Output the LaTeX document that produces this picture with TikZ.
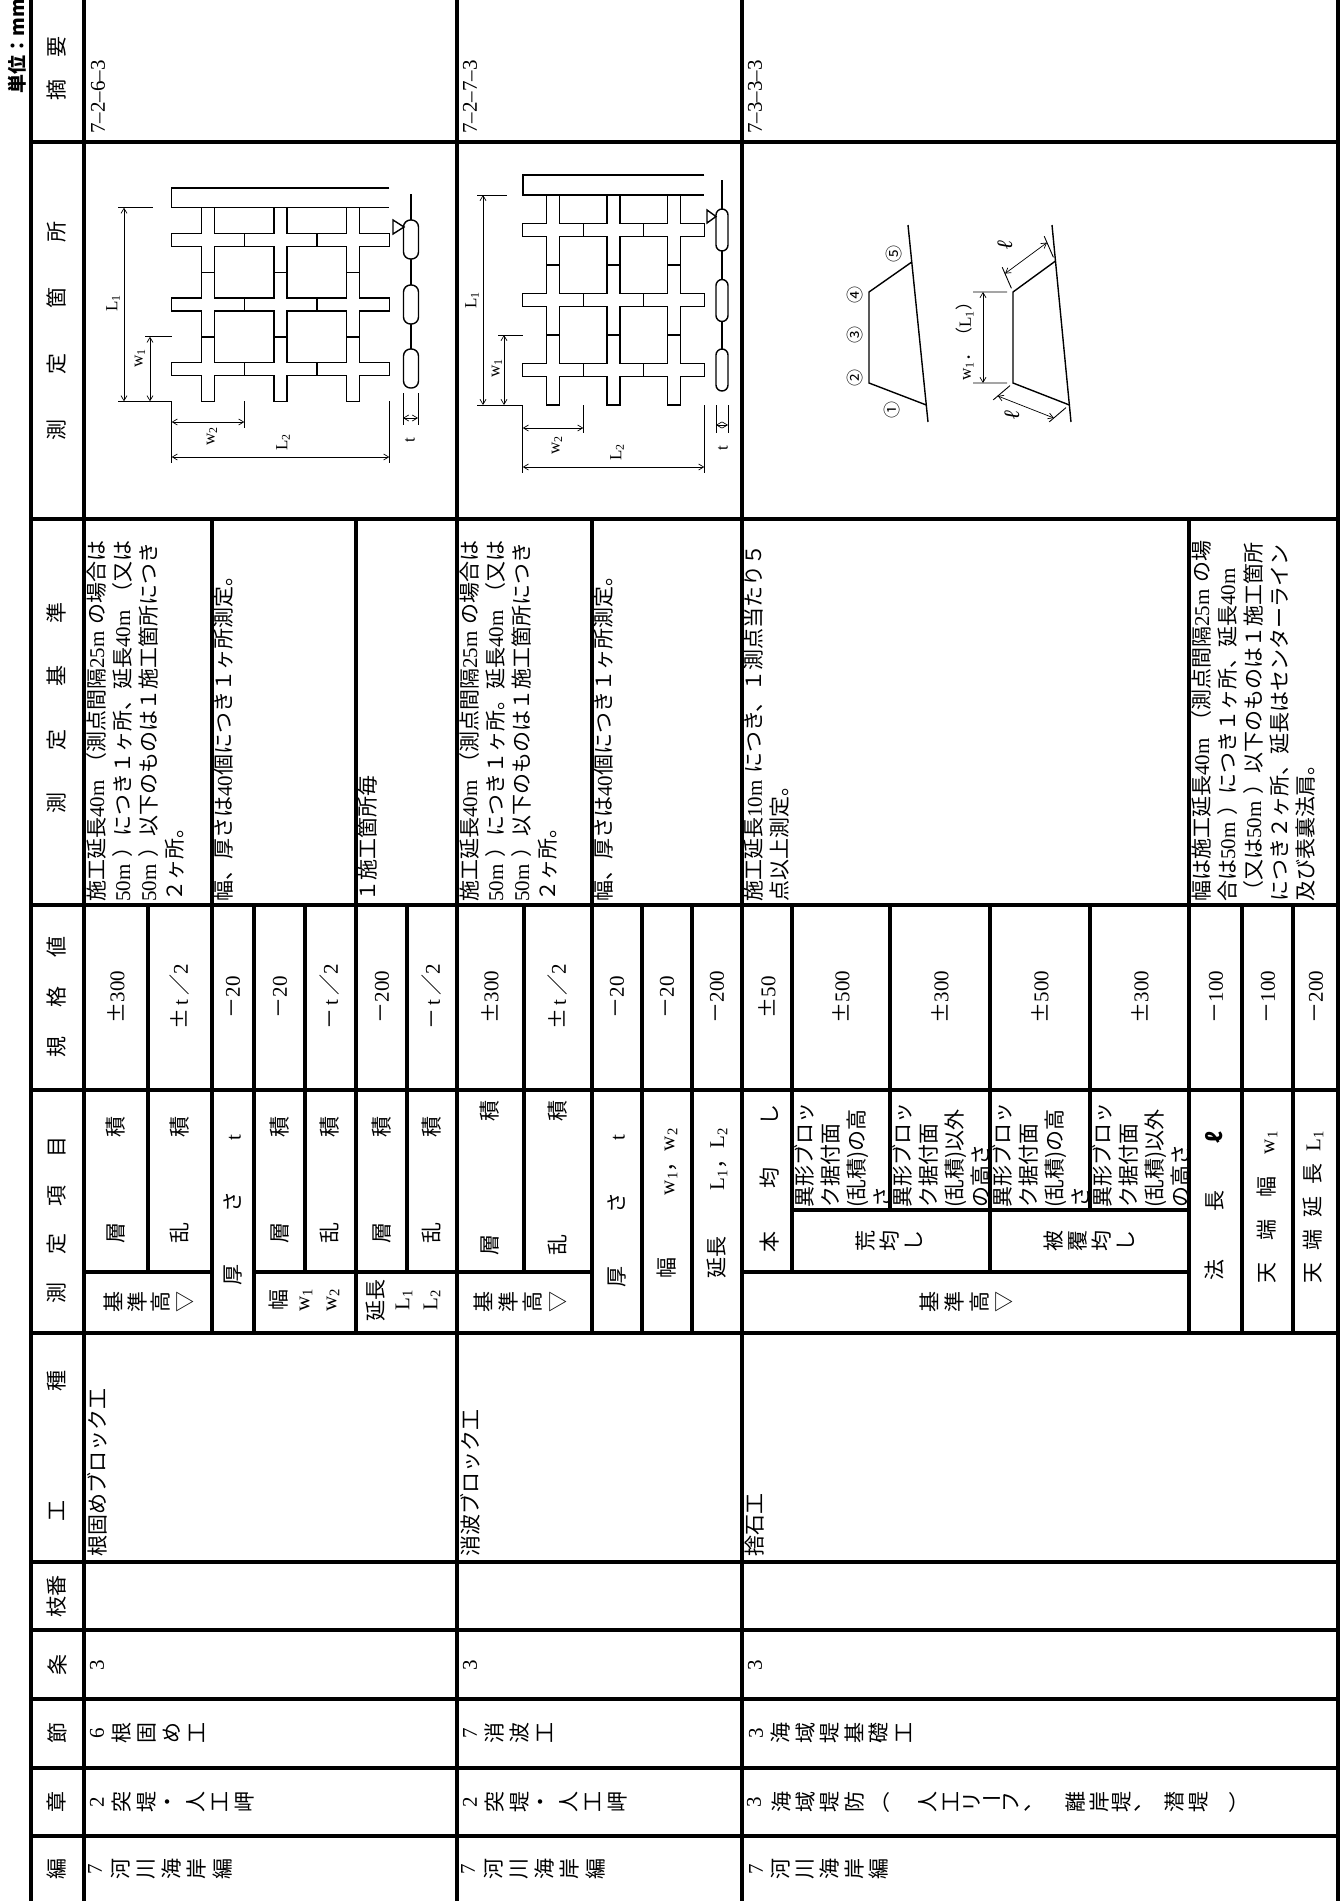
\documentclass[tikz,border=0pt]{standalone}
\usepackage{fontspec}
\setmainfont{Liberation Serif}
\newfontfamily\jp{Noto Sans CJK JP}
\usetikzlibrary{arrows.meta}
\newcommand{\jpf}{\jp\fontsize{21}{26}\selectfont}
\newcommand{\valf}{\fontsize{21}{26}\selectfont}
\newcommand{\labf}{\fontsize{17}{20}\selectfont}
\newcommand{\ellf}{\fontsize{22}{26}\selectfont}
\newcommand{\bell}{\textbf{\textit{ℓ}}}
\newcommand{\um}[1]{\textrm{#1}\makebox[1.1em][l]{\textrm{m}}}
\newcommand{\sprd}[2]{\makebox[#1][s]{#2}}
\newcommand{\tate}[5]{\foreach \ch [count=\cnt from 0] in {#5} \node[rt] (#1-\cnt) at (#2+\cnt*#4,#3) {\ch};}
\newcommand{\xblock}[4]{\draw[fig] (#1-6.5,#2-#4) -- ++(13,0) |- (#1+#3,#2-6.5) -- ++(0,13) -| (#1+6.5,#2+#4) -- ++(-13,0) |- (#1-#3,#2+6.5) -- ++(0,-13) -| (#1-6.5,#2-#4) -- cycle;}

\begin{document}
\begin{tikzpicture}[x=1pt,y=-1pt,
  tbl/.style={line width=3.1pt},
  fig/.style={line width=1.4pt},
  ext/.style={line width=0.9pt},
  dim/.style={line width=0.7pt,<->},
  >={Straight Barb[length=5pt,width=6pt]},
  rt/.style={rotate=90,inner sep=0pt,font=\jpf},
  rtb/.style={rt,anchor=north west,align=left},
  up/.style={inner sep=0pt,font=\jpf},
  val/.style={rotate=90,inner sep=0pt,font=\valf},
  lab/.style={rotate=90,inner sep=0pt,font=\labf},
  ell/.style={rotate=90,inner sep=0pt,font=\ellf},
  num/.style={rotate=90,inner sep=0pt,font=\jp\fontsize{17}{19}\selectfont}]

\path[use as bounding box,fill=white] (0,0) rectangle (1343,1901);

\foreach \x in {31,84,457,742,1338} \draw[tbl] (\x,-5) -- (\x,1906);
\foreach \y in {142,519,905,1090,1333,1562,1630,1699,1768,1836} \draw[tbl] (31,\y) -- (1338,\y);
\foreach \x in {212,356,592,1189} \draw[tbl] (\x,519) -- (\x,1333);
\foreach \x in {254,642,692,1242,1293} \draw[tbl] (\x,905) -- (\x,1333);
\foreach \x in {148,305,407,524,792,990} \draw[tbl] (\x,905) -- (\x,1272);
\foreach \x in {890,1090} \draw[tbl] (\x,905) -- (\x,1210);
\draw[tbl] (84,1272) -- (212,1272) (254,1272) -- (592,1272) (742,1272) -- (1189,1272) (792,1210) -- (1189,1210);

\node[rt,font=\jp\bfseries\fontsize{19}{22}\selectfont] (unit) at (17,46) {単位：mm};
\node[rt] (hd1) at (57,68) {\sprd{64pt}{摘\hfil 要}};
\node[rt] (hd2) at (57,331) {\sprd{219pt}{測\hfil 定\hfil 箇\hfil 所}};
\node[rt] (hd3) at (57,708) {\sprd{211pt}{測\hfil 定\hfil 基\hfil 準}};
\node[rt] (hd4) at (57,997) {\sprd{121pt}{規\hfil 格\hfil 値}};
\node[rt] (hd5) at (57,1220) {\sprd{167pt}{測\hfil 定\hfil 項\hfil 目}};
\node[rt] (hd6) at (57,1446) {\sprd{151pt}{工\hfil 種}};
\node[rt] (hd7) at (57,1596) {枝番};
\node[rt] (hd8) at (57,1665) {条};
\node[rt] (hd9) at (57,1733) {節};
\node[rt] (hd10) at (57,1802) {章};
\node[rt] (hd11) at (57,1869) {編};

\node[val,anchor=west] (ref1) at (98,134) {7--2--6--3};
\node[val,anchor=west] (ref2) at (470,134) {7--2--7--3};
\node[val,anchor=west] (ref3) at (755,134) {7--3--3--3};

\draw[fig] (389.3,188) -- (171.7,188) -- (171.7,207.7) -- (389.3,207.7);
\foreach \cx in {208,280.5,353} {\foreach \cy in {240,304.5,369} {\xblock{\cx}{\cy}{36.3}{32.3}}}
\draw[fig] (411,194) -- (411,388);
\foreach \y in {220,285,349} \draw[fig,fill=white,rounded corners=7pt] (403.5,\y) rectangle ++(15,39);
\draw[fig] (393,220) -- (404,227) -- (393,234) -- cycle;
\draw[ext] (118,207.7) -- (153,207.7) (118,401.3) -- (171.7,401.3) -- (171.7,463) (145,336.8) -- (171.7,336.8)
  (244.3,401.3) -- (244.3,428) (389.3,401.3) -- (389.3,463) (403,393) -- (403,425) (418,393) -- (418,425);
\draw[dim] (124,207.7) -- (124,401.3);
\draw[dim] (150,336.8) -- (150,401.3);
\draw[dim] (171.7,422) -- (244.3,422);
\draw[dim] (171.7,457) -- (389.3,457);
\draw[dim] (403,418) -- (418,418);
\node[lab] (f1L1) at (113,303) {L\textsubscript{1}};
\node[lab] (f1w1) at (140,358) {w\textsubscript{1}};
\node[lab] (f1w2) at (212,436) {w\textsubscript{2}};
\node[lab] (f1L2) at (283,442) {L\textsubscript{2}};
\node[lab] (f1t) at (410,440) {t};

\draw[fig] (704.3,175) -- (522.8,175) -- (522.8,195) -- (704.3,195);
\foreach \cx in {553,613.5,674} {\foreach \cy in {230,300,370} {\xblock{\cx}{\cy}{30.25}{35}}}
\draw[fig] (722,180) -- (722,391);
\foreach \y in {209,279.5,349} \draw[fig,fill=white,rounded corners=6pt] (716,\y) rectangle ++(12,42);
\draw[fig] (707,210) -- (716,216.5) -- (707,223) -- cycle;
\draw[ext] (477,195) -- (507,195) (477,405) -- (522.8,405) -- (522.8,473) (498,335) -- (522.8,335)
  (583.3,405) -- (583.3,433) (704.3,405) -- (704.3,473) (716,405) -- (716,433) (728,405) -- (728,433);
\draw[dim] (483,195) -- (483,405);
\draw[dim] (504,335) -- (504,405);
\draw[dim] (522.8,428) -- (583.3,428);
\draw[dim] (522.8,467) -- (704.3,467);
\draw[dim] (716,425) -- (728,425);
\node[lab] (f2L1) at (472,300) {L\textsubscript{1}};
\node[lab] (f2w1) at (497,368) {w\textsubscript{1}};
\node[lab] (f2w2) at (557,445) {w\textsubscript{2}};
\node[lab] (f2L2) at (617,452) {L\textsubscript{2}};
\node[lab] (f2t) at (723,448) {t};

\draw[fig] (908,225) -- (928,422);
\draw[fig] (911.8,262) -- (869,292) -- (869,383) -- (926.3,405);
\node[num] (p1) at (892,410) {①};
\node[num] (p2) at (855,378) {②};
\node[num] (p3) at (855,335) {③};
\node[num] (p4) at (855,295) {④};
\node[num] (p5) at (894,254) {⑤};
\draw[fig] (1052,225) -- (1071,422);
\draw[fig] (1055.5,261) -- (1013,292) -- (1013,383) -- (1069.4,405);
\draw[ext] (973,292) -- (1007,292) (973,383) -- (1007,383)
  (1011.4,288.3) -- (1002.2,267.2) (1053.4,257.3) -- (1044.2,236.2)
  (1010,385.6) -- (993.2,399.9) (1066,407.6) -- (1049.2,421.9);
\draw[dim] (983,292) -- (983,383);
\draw[dim] (1005,273.6) -- (1047,242.6);
\draw[dim] (997.8,396) -- (1053.8,418);
\node[lab] (f3w) at (965,337) {w\textsubscript{1}{\jp ．（}L\textsubscript{1}{\jp ）}};
\node[ell] (f3l1) at (1005,245) {\bell};
\node[ell] (f3l2) at (1012,415) {\bell};

\node[rtb] (m1a) at (86,902) {施工延長\um{40}（測点間隔\um{25}の場合は\\\um{50}）につき１ヶ所、延長\um{40}（又は\\\um{50}）以下のものは１施工箇所につき\\２ヶ所。};
\node[rtb] (m1b) at (214,902) {幅、厚さは\textrm{40}個につき１ヶ所測定。};
\node[rtb] (m1c) at (358,902) {１施工箇所毎};
\node[rtb] (m2a) at (459,902) {施工延長\um{40}（測点間隔\um{25}の場合は\\\um{50}）につき１ヶ所。延長\um{40}（又は\\\um{50}）以下のものは１施工箇所につき\\２ヶ所。};
\node[rtb] (m2b) at (594,902) {幅、厚さは\textrm{40}個につき１ヶ所測定。};
\node[rtb] (m3a) at (744,902) {施工延長\um{10}につき、１測点当たり５\\点以上測定。};
\node[rtb] (m3b) at (1191,902) {幅は施工延長\um{40}（測点間隔\um{25}の場\\合は\um{50}）につき１ヶ所、延長\um{40}\\（又は\um{50}）以下のものは１施工箇所\\につき２ヶ所、延長はセンターライン\\及び表裏法肩。};

\foreach \x/\v in {116/{\jp ±}300,180/{\jp ±}\,t\,{\jp ／}2,233/{\jp －}20,280/{\jp －}20,330/{\jp －}\,t\,{\jp ／}2,382/{\jp －}200,432/{\jp －}\,t\,{\jp ／}2,
  490/{\jp ±}300,558/{\jp ±}\,t\,{\jp ／}2,617/{\jp －}20,667/{\jp －}20,717/{\jp －}200,
  767/{\jp ±}50,841/{\jp ±}500,940/{\jp ±}300,1040/{\jp ±}500,1140/{\jp ±}300,1216/{\jp －}100,1268/{\jp －}100,1316/{\jp －}200}
  \node[val] (v-\x) at (\x,997) {\v};

\foreach \x/\ch in {116/層,180/乱,280/層,330/乱,382/層,432/乱} \node[rt] (i-\x) at (\x,1180) {\sprd{127pt}{\ch\hfil 積}};
\node[rt] (i-233) at (233,1210) {\sprd{150pt}{厚\hfil さ\hfil\textrm{t}}};
\tate{k1}{113}{1302}{24}{基,準,高,▽}
\tate{k2}{279}{1300}{27}{幅,\textrm{w\textsubscript{1}},\textrm{w\textsubscript{2}}}
\tate{k3}{376}{1300}{28}{延長,\textrm{L\textsubscript{1}},\textrm{L\textsubscript{2}}}

\node[rt] (i-490) at (490,1178) {\sprd{155pt}{層\hfil 積}};
\node[rt] (i-558) at (558,1178) {\sprd{155pt}{乱\hfil 積}};
\node[rt] (i-617) at (617,1211) {\sprd{153pt}{厚\hfil さ\hfil\textrm{t}}};
\node[rt] (i-667) at (667,1203) {\sprd{150pt}{幅\hfil\textrm{w\textsubscript{1}}，\textrm{w\textsubscript{2}}}};
\node[rt] (i-717) at (717,1203) {\sprd{150pt}{延長\hfil\textrm{L\textsubscript{1}}，\textrm{L\textsubscript{2}}}};
\tate{k4}{483}{1302}{25}{基,準,高,▽}

\node[rt] (i-770) at (770,1178) {\sprd{148pt}{本\hfil 均\hfil し}};
\node[rtb] (i-794) at (794,1208) {異形ブロッ\\ク据付面\\(乱積)の高\\さ};
\node[rtb] (i-892) at (892,1208) {異形ブロッ\\ク据付面\\(乱積)以外\\の高さ};
\node[rtb] (i-992) at (992,1208) {異形ブロッ\\ク据付面\\(乱積)の高\\さ};
\node[rtb] (i-1092) at (1092,1208) {異形ブロッ\\ク据付面\\(乱積)以外\\の高さ};
\tate{a1}{866}{1241}{24}{荒,均,し}
\tate{a2}{1054}{1241}{24}{被,覆,均,し}
\tate{k5}{929}{1302}{25}{基,準,高,▽}
\node[rt] (i-1215) at (1215,1206) {\sprd{148pt}{法\hfil 長\hfil\bell}};
\node[rt] (i-1267) at (1267,1207) {\sprd{152pt}{天\hfil 端\hfil 幅\hfil\textrm{w\textsubscript{1}}}};
\node[rt] (i-1313) at (1313,1207) {\sprd{152pt}{天\hfil 端\hfil 延\hfil 長\hfil\textrm{L\textsubscript{1}}}};

\node[rt,anchor=west] (w1) at (97,1557) {根固めブロック工};
\node[rt,anchor=west] (w2) at (470,1557) {消波ブロック工};
\node[rt,anchor=west] (w3) at (755,1557) {捨石工};
\foreach \x in {97,470,755} \node[val] (j-\x) at (\x,1665) {3};
\tate{s1}{97}{1733}{25}{\textrm{6},根,固,め,工}
\tate{s2}{470}{1733}{25}{\textrm{7},消,波,工}
\tate{s3}{756}{1733}{24.6}{\textrm{3},海,域,堤,基,礎,工}
\tate{c1}{97}{1802}{24.6}{\textrm{2},突,堤,・,人,工,岬}
\tate{c2}{470}{1802}{24.6}{\textrm{2},突,堤,・,人,工,岬}
\foreach \x/\ch [count=\cnt] in {754/\textrm{3},782/海,806/域,830/堤,855/防,928/人,951/工,972/リ,1011/フ,1028/、,1076/離,1099/岸,1122/堤,1138/、,1174/潜,1199/堤}
  \node[rt] (c3-\cnt) at (\x,1802) {\ch};
\node[up] (c3a) at (880,1802) {（};
\node[up] (c3b) at (992,1802) {ー};
\node[up] (c3c) at (1239,1802) {）};
\tate{h1}{95}{1869}{25.5}{\textrm{7},河,川,海,岸,編}
\tate{h2}{468}{1869}{25.5}{\textrm{7},河,川,海,岸,編}
\tate{h3}{756}{1869}{24.6}{\textrm{7},河,川,海,岸,編}
\end{tikzpicture}
\end{document}
